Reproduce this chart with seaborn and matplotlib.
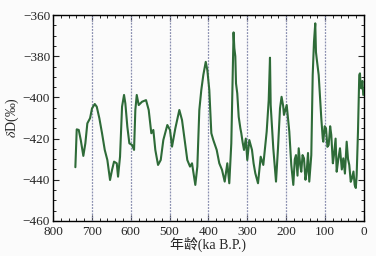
import numpy as np
import pandas as pd
import matplotlib
matplotlib.use("Agg")
import matplotlib.pyplot as plt
from matplotlib.ticker import MultipleLocator
import seaborn as sns

# данные (возраст, ka B.P. / δD, ‰)
age = [742.5, 739, 733.8, 728.6, 722, 716.8, 711.7, 704.7, 699.6, 692.6,
       687.5, 680.8, 673.9, 666.9, 660.2, 653.3, 648.1, 643, 636, 632.7,
       627.6, 622.4, 617.3, 613.9, 608.8, 603.6, 596.7, 591.5, 588.2, 584.6,
       579.5, 571, 560.7, 553.8, 547.1, 541.9, 536.8, 529.8, 522.9, 516.2,
       505.9, 499, 493.8, 485.3, 475, 468.1, 461.2, 454.5, 447.5, 442.4,
       433.9, 428.7, 423.6, 418.5, 413.3, 407.1, 403, 397.9, 392.7, 387.6,
       378.9, 372.2, 365.2, 358.3, 351.6, 346.5, 341.3, 338.5, 337, 335.5,
       333.5, 331, 329.2, 326, 322.3, 318, 315.6, 312, 308.6, 304, 300.2, 295, 288.1,
       284, 279.6, 272.6, 265.7, 259, 250.3, 245.1, 241.8, 240, 233.3,
       226.3, 221.2, 216, 212, 208, 205.8, 198.8, 192.1, 187, 181.8,
       178, 174.9, 171, 167.9, 164, 161.3, 158, 154.3, 150.5, 147.4,
       144, 140.7, 135.5, 131.9, 128.6, 125.3, 123.5, 121.7, 116.5, 109.8,
       106, 104.7, 101, 97.7, 94, 90.8, 87, 84.1, 80, 77.2,
       73, 70.2, 66, 61.7, 57, 53.2, 49, 44.5, 41, 37.8,
       34, 30.9, 27, 23.9, 21, 18.8, 15.4, 12.1, 10.3, 8.5,
       6.9, 4, 1.8]
dD = [-433.9, -415.5, -415.8, -420.7, -428.4, -422.3, -412.6, -410.1, -405.3, -403.2,
      -404.5, -410.1, -417.4, -425.5, -430.4, -440.1, -435.2, -431.2, -432, -438.5,
      -428.8, -404.5, -398.8, -402.9, -414.2, -422.3, -423.1, -425.5, -406.1, -398.8,
      -403.7, -402.1, -401.3, -406.1, -417.4, -415.8, -425.5, -432.8, -430.4, -420.7,
      -413.4, -415.8, -423.9, -415, -406.1, -411, -420.7, -430.4, -433.6, -432,
      -442.5, -433.6, -406.1, -396.4, -389.1, -382.7, -386.7, -396.4, -417.4, -420.7,
      -425.5, -432, -435.2, -440.9, -432, -441.7, -422.3, -395, -378, -368.4,
      -376, -380, -393.2, -398, -409.4, -415, -417.4, -422, -425.5, -420, -430.4, -420.7, -425.5,
      -432, -436.8, -441.7, -428.8, -432.8, -416.6, -401.3, -380.7, -403.7, -424.7,
      -440.9, -424.7, -405.3, -399.7, -404, -408.5, -403.7, -416.6, -432.8, -442.5,
      -430, -428, -438, -424.7, -433, -436.1, -428, -429.6, -440, -436.1,
      -427, -440.9, -428, -389.1, -373, -364, -378, -381, -389.1, -410.1,
      -420, -421.5, -414, -415, -424, -423.1, -414, -418.2, -432, -428,
      -420, -436.1, -430, -424.7, -435, -429.6, -437, -421.5, -430, -432.8,
      -441, -439.3, -436, -442.5, -444, -437.7, -416.6, -389.1, -388.3, -395,
      -395.6, -392, -398.8]
vlines = [700, 600, 500, 400, 300, 200, 100]

df = pd.DataFrame({"age": age, "dD": dD})

sns.set_style("ticks")
plt.rcParams['font.family'] = ['Liberation Serif', 'Noto Sans CJK SC']
plt.rcParams['mathtext.fontset'] = 'stix'

fig = plt.figure(figsize=(3.76, 2.56), dpi=100, facecolor="#fbfbfb")
ax = fig.add_axes([0.141, 0.137, 0.827, 0.804])
ax.set_facecolor("#fbfbfb")

for v in vlines:
    ax.axvline(v, color="#8a8fb0", lw=0.9, ls=(0, (1.5, 1)), zorder=1)

sns.lineplot(data=df, x="age", y="dD", sort=False, color="#2e6b38", lw=1.5, ax=ax, zorder=3)

ax.set_xlim(800, 0)
ax.set_ylim(-460, -360)
ax.xaxis.set_major_locator(MultipleLocator(100))
ax.xaxis.set_minor_locator(MultipleLocator(20))
ax.yaxis.set_major_locator(MultipleLocator(20))
ax.yaxis.set_minor_locator(MultipleLocator(5))
ax.tick_params(which="both", direction="in", top=True, right=True, labelsize=9.5)
ax.tick_params(axis="x", pad=4)
ax.tick_params(axis="y", pad=2)
ax.tick_params(which="major", length=4, width=0.8)
ax.tick_params(which="minor", length=2.5, width=0.7)
for s in ax.spines.values():
    s.set_linewidth(1.0)
    s.set_color("black")

ax.set_xlabel("年龄(ka B.P.)", fontsize=10, labelpad=-1)
ax.set_ylabel(r"$\delta$D(‰)", fontsize=10, labelpad=1)

fig.savefig("out.png", dpi=100, facecolor=fig.get_facecolor())
